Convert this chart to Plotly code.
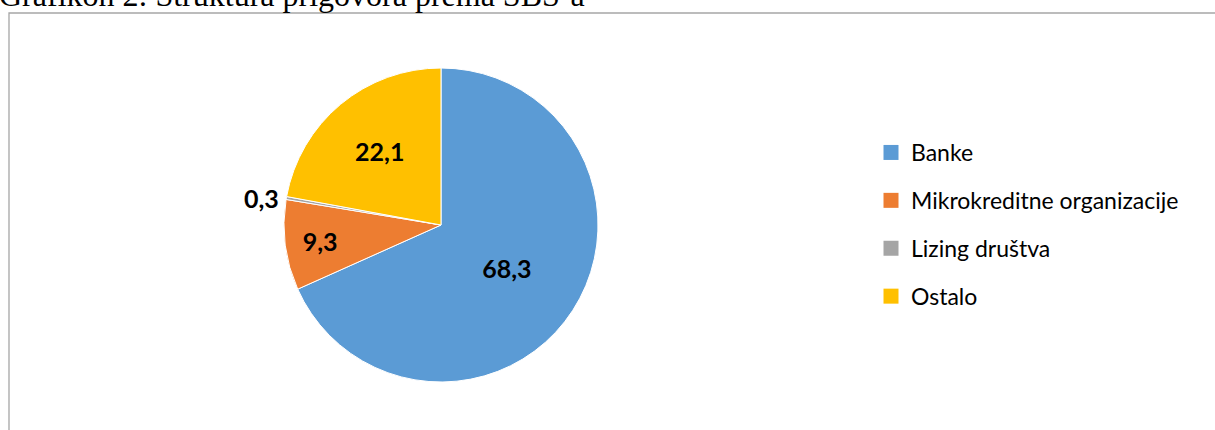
import plotly.graph_objects as go

categories = ["Banke", "Mikrokreditne organizacije", "Lizing društva", "Ostalo"]
values = [68.3, 9.3, 0.3, 22.1]
colors = ["#5B9BD5", "#ED7D31", "#A5A5A5", "#FFC000"]
text_positions = ["inside", "inside", "outside", "inside"]
title_text = "Grafikon 2: Struktura prigovora prema SBS-a"

W, H = 1215, 430
ML, MT = 9, 13
PW, PH = W - ML, H - MT

# pie placement (pixels)
cx, cy, r = 441, 225, 157

fig = go.Figure()
fig.add_trace(go.Pie(
    labels=categories,
    values=values,
    sort=False,
    direction="clockwise",
    rotation=0,
    marker=dict(colors=colors, line=dict(color="white", width=1)),
    texttemplate="%{value:.1f}",
    textposition=text_positions,
    insidetextorientation="horizontal",
    textfont=dict(family="Lato", size=25, color="black", weight="bold"),
    showlegend=False,
    hoverinfo="label+value",
    domain=dict(
        x=[(cx - r - ML) / PW, (cx + r - ML) / PW],
        y=[1 - (cy + r - MT) / PH, 1 - (cy - r - MT) / PH],
    ),
))

# legend entries (one group per category so the spacing matches)
for i, (name, col) in enumerate(zip(categories, colors)):
    fig.add_trace(go.Scatter(
        x=[None], y=[None], mode="markers", name=name,
        marker=dict(symbol="square", size=15, color=col),
        legendgroup=f"g{i}", showlegend=True,
    ))

fig.update_layout(
    width=W, height=H,
    margin=dict(l=ML, r=0, t=MT, b=0),
    paper_bgcolor="white", plot_bgcolor="white",
    separators=", ",
    xaxis=dict(visible=False), yaxis=dict(visible=False),
    legend=dict(
        x=(871 - ML) / PW, xanchor="left",
        y=1 - (131 - MT) / PH, yanchor="top",
        font=dict(family="Lato", size=23, color="black"),
        tracegroupgap=15,
        bgcolor="rgba(0,0,0,0)",
        itemclick=False, itemdoubleclick=False,
    ),
    shapes=[dict(
        type="rect", xref="paper", yref="paper",
        x0=0, x1=1.01, y0=-0.02, y1=1,
        line=dict(color="#A6A6A6", width=1.3),
        fillcolor="rgba(0,0,0,0)", layer="below",
    )],
    annotations=[dict(
        text=title_text, xref="paper", yref="paper",
        x=0, xshift=-ML - 3, xanchor="left",
        y=1, yanchor="bottom", yshift=-2,
        showarrow=False,
        font=dict(family="Liberation Serif", size=32, color="black"),
    )],
)

fig.write_html("out.html")
